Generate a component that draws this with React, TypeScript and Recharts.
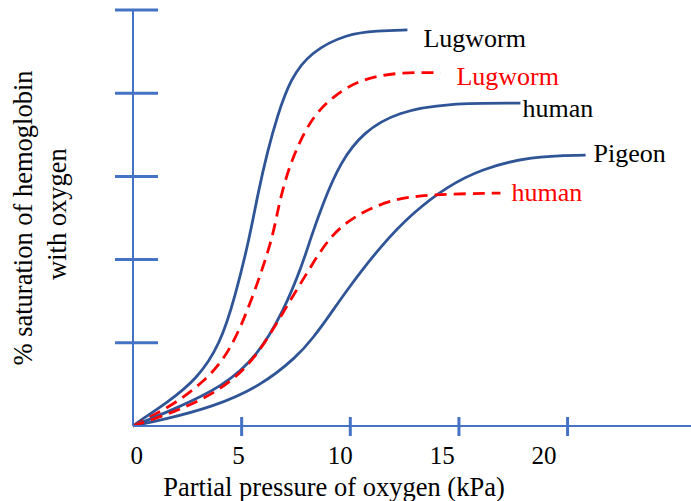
import { LineChart, Line, XAxis, YAxis } from "recharts";

// curves: p = partial pressure (kPa), s = % saturation
const lugwormSolid = [
  { p: 0, s: 0 }, { p: 0.18, s: 0.8 }, { p: 1.57, s: 5.6 }, { p: 2.95, s: 11.3 },
  { p: 4.01, s: 19.6 }, { p: 4.7, s: 31.1 }, { p: 5.35, s: 44.9 }, { p: 5.76, s: 56.2 },
  { p: 6.18, s: 65.8 }, { p: 6.64, s: 74.5 }, { p: 7.24, s: 83.4 }, { p: 8.16, s: 89.9 },
  { p: 9.86, s: 94.3 }, { p: 11.24, s: 95.0 }, { p: 12.63, s: 95.2 },
];
const lugwormDashed = [
  { p: 0, s: 0 }, { p: 1.71, s: 4.6 }, { p: 3.23, s: 10.4 }, { p: 4.47, s: 17.6 },
  { p: 5.53, s: 31.1 }, { p: 6.41, s: 44.9 }, { p: 6.64, s: 51.4 }, { p: 7.0, s: 59.3 },
  { p: 7.56, s: 67.3 }, { p: 8.29, s: 74.5 }, { p: 9.22, s: 79.3 }, { p: 10.46, s: 83.4 },
  { p: 12.3, s: 85.1 }, { p: 14.15, s: 84.9 },
];
const humanSolid = [
  { p: 0, s: 0 }, { p: 1.84, s: 3.9 }, { p: 4.15, s: 9.5 }, { p: 5.71, s: 16.7 },
  { p: 6.91, s: 27.3 }, { p: 7.83, s: 39.3 }, { p: 8.16, s: 44.9 }, { p: 8.76, s: 53.8 },
  { p: 9.54, s: 63.4 }, { p: 10.6, s: 70.7 }, { p: 12.17, s: 75.5 }, { p: 14.47, s: 77.6 },
  { p: 17.83, s: 77.6 },
];
const humanDashed = [
  { p: 0, s: 0 }, { p: 1.84, s: 3.2 }, { p: 3.87, s: 8.0 }, { p: 5.53, s: 15.2 },
  { p: 6.91, s: 27.3 }, { p: 8.29, s: 39.3 }, { p: 9.08, s: 45.6 }, { p: 10.14, s: 50.4 },
  { p: 11.84, s: 54.5 }, { p: 13.69, s: 55.7 }, { p: 16.91, s: 56.0 },
];
const pigeon = [
  { p: 0, s: 0 }, { p: 1.38, s: 1.5 }, { p: 3.69, s: 4.6 }, { p: 5.85, s: 9.5 },
  { p: 7.56, s: 16.7 }, { p: 8.29, s: 21.2 }, { p: 9.03, s: 26.5 }, { p: 9.86, s: 32.8 },
  { p: 11.38, s: 43.2 }, { p: 12.9, s: 51.4 }, { p: 14.47, s: 57.6 }, { p: 15.99, s: 61.7 },
  { p: 18.29, s: 64.9 }, { p: 20.83, s: 65.1 },
];

const xTicks = [5, 10, 15, 20];
const xTickLabels = [0, 5, 10, 15, 20];
const yTicks = [20, 40, 60, 80, 100];

const AXIS = "#4472C4";
const BLUE = "#2F5597";
const RED = "#FF0000";
const SERIF = '"Liberation Serif", "Times New Roman", serif';

const XMark = ({ x, y }: any) => (
  <line x1={x} x2={x} y1={y - 9} y2={y + 10} stroke={AXIS} strokeWidth={3} />
);

const XLabel = ({ x, y, payload }: any) => (
  <text x={x} y={y + 37} textAnchor="middle" fontSize={25} fontFamily={SERIF} fill="#000">
    {payload.value}
  </text>
);

const YMark = ({ x, y }: any) => (
  <line x1={x - 18} x2={x + 25} y1={y} y2={y} stroke={AXIS} strokeWidth={3} />
);

const YTitle = ({ viewBox }: any) => {
  const cy = viewBox.y + viewBox.height / 2;
  const x1 = 32;
  const x2 = 66;
  return (
    <g fontFamily={SERIF} fontSize={26.5} fill="#000">
      <text x={x1} y={cy} textAnchor="middle" transform={`rotate(-90, ${x1}, ${cy})`}>
        % saturation of hemoglobin
      </text>
      <text x={x2} y={cy - 4} textAnchor="middle" transform={`rotate(-90, ${x2}, ${cy - 4})`}>
        with oxygen
      </text>
    </g>
  );
};

const XTitle = ({ viewBox }: any) => (
  <text x={334} y={viewBox.y + 69} textAnchor="middle" fontSize={26.5} fontFamily={SERIF} fill="#000">
    Partial pressure of oxygen (kPa)
  </text>
);

const endLabel = (text: string, color: string, dx: number, dy: number, last: number) =>
  (props: any) =>
    props.index === last ? (
      <text x={props.x + dx} y={props.y + dy} fill={color} fontSize={26} fontFamily={SERIF}>
        {text}
      </text>
    ) : (
      <g />
    );

export default function App() {
  return (
    <div style={{ position: "absolute", left: 0, top: 0, background: "#fff" }}>
      <LineChart width={691} height={501} margin={{ top: 10, right: 0, bottom: 0, left: 132 }}>
        <XAxis
          xAxisId="axis"
          dataKey="p"
          type="number"
          domain={[0, 25.68]}
          ticks={xTicks}
          height={1}
          tickSize={0}
          tickMargin={0}
          tick={<XMark />}
          tickLine={false}
          axisLine={{ stroke: AXIS, strokeWidth: 2 }}
          allowDataOverflow
        />
        <XAxis
          xAxisId="labels"
          dataKey="p"
          type="number"
          domain={[-0.18, 27.22]}
          ticks={xTickLabels}
          height={74}
          tickSize={0}
          tickMargin={0}
          tick={<XLabel />}
          tickLine={false}
          axisLine={false}
          allowDataOverflow
          label={<XTitle />}
        />
        <YAxis
          type="number"
          domain={[0, 100]}
          ticks={yTicks}
          width={1}
          tickSize={0}
          tickMargin={0}
          tick={<YMark />}
          tickLine={false}
          axisLine={{ stroke: AXIS, strokeWidth: 2 }}
          label={<YTitle />}
        />
        <Line xAxisId="axis" data={lugwormSolid} dataKey="s" type="basis" stroke={BLUE} strokeWidth={2.8}
          dot={false} isAnimationActive={false}
          label={endLabel("Lugworm", "#000", 16, 17, lugwormSolid.length - 1)} />
        <Line xAxisId="axis" data={lugwormDashed} dataKey="s" type="basis" stroke={RED} strokeWidth={2.8}
          strokeDasharray="12 7" dot={false} isAnimationActive={false}
          label={endLabel("Lugworm", RED, 16, 12, lugwormDashed.length - 1)} />
        <Line xAxisId="axis" data={humanSolid} dataKey="s" type="basis" stroke={BLUE} strokeWidth={2.8}
          dot={false} isAnimationActive={false}
          label={endLabel("human", "#000", 2, 14, humanSolid.length - 1)} />
        <Line xAxisId="axis" data={pigeon} dataKey="s" type="basis" stroke={BLUE} strokeWidth={2.8}
          dot={false} isAnimationActive={false}
          label={endLabel("Pigeon", "#000", 8, 7, pigeon.length - 1)} />
        <Line xAxisId="axis" data={humanDashed} dataKey="s" type="basis" stroke={RED} strokeWidth={2.8}
          strokeDasharray="12 7" dot={false} isAnimationActive={false}
          label={endLabel("human", RED, 11, 8, humanDashed.length - 1)} />
      </LineChart>
    </div>
  );
}
